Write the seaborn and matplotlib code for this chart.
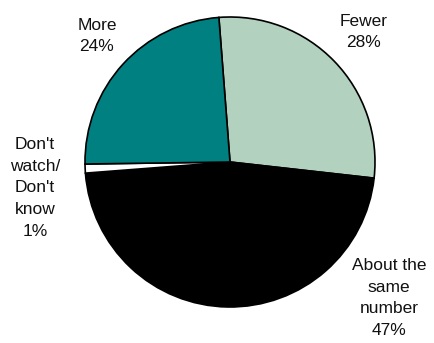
import matplotlib
matplotlib.use("Agg")
import matplotlib.pyplot as plt
import seaborn as sns

# Share of respondents by answer
categories = ["Fewer", "About the\nsame\nnumber", "Don't\nwatch/\nDon't\nknow", "More"]
values = [28, 47, 1, 24]
colors = ["#b3d1bf", "#000000", "#ffffff", "#008080"]

sns.set_theme(style="white")
plt.rcParams["font.family"] = ["Liberation Sans", "DejaVu Sans"]

W, H = 435, 343
fig = plt.figure(figsize=(W / 100, H / 100), dpi=100)
ax = fig.add_axes([0, 0, 1, 1])

cx, cy, r = 230, H - 162, 145
ax.pie(values, colors=colors, startangle=94.4, counterclock=False,
       center=(cx, cy), radius=r, frame=True,
       wedgeprops=dict(edgecolor="black", linewidth=1.2))
ax.set_xlim(0, W)
ax.set_ylim(0, H)
ax.set_aspect("equal")
ax.axis("off")

# label anchor points (pixel coordinates from top-left)
label_pos = [(364, 32), (389, 298), (35, 188), (97, 36)]
for cat, val, (lx, ly) in zip(categories, values, label_pos):
    ax.text(lx, H - ly, f"{cat}\n{val}%", ha="center", va="center",
            fontsize=12.5, linespacing=1.58, color="#111111")

fig.savefig("out.png", dpi=100)
